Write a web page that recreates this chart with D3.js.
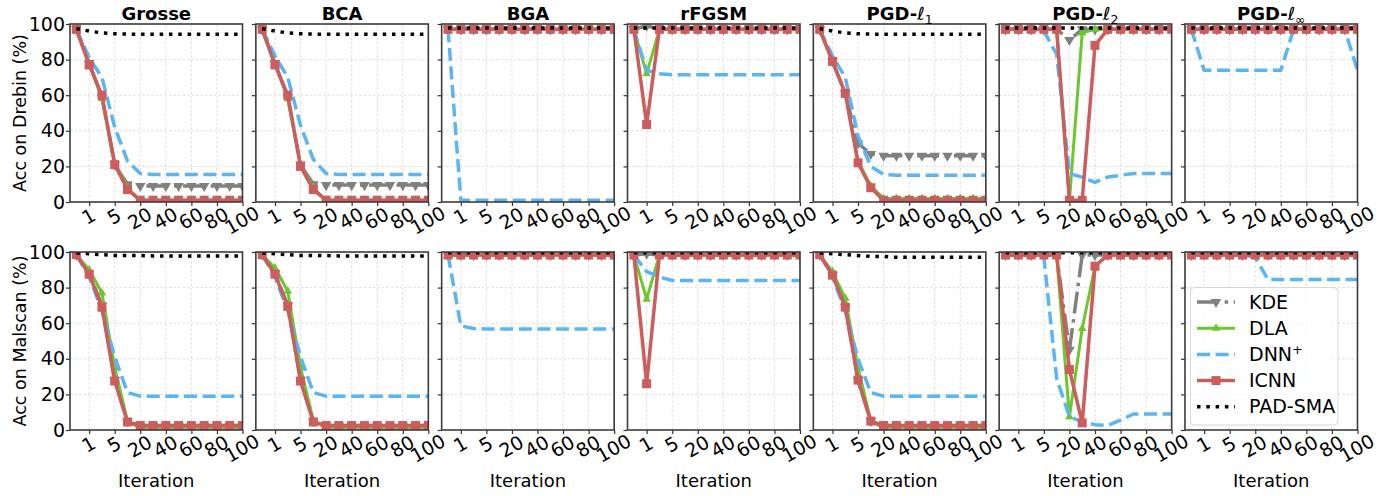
<!DOCTYPE html>
<html>
<head>
<meta charset="utf-8">
<script src="https://cdn.jsdelivr.net/npm/d3@7"></script>
<style>
  body { margin: 0; background: #fff; }
  text { font-family: "DejaVu Sans", sans-serif; fill: #000; }
</style>
</head>
<body>
<script>
var W = 1398, H = 496;

var attacks = ["Grosse", "BCA", "BGA", "rFGSM", "PGD-ℓ1", "PGD-ℓ2", "PGD-ℓ∞"];
var datasets = ["Drebin", "Malscan"];
var tickIdx = [1, 3, 5, 7, 9, 11, 13];
var tickLabels = ["1", "5", "20", "40", "60", "80", "100"];
var yTicks = [0, 20, 40, 60, 80, 100];

// one row of 14 points per attack (x = iteration index 0..13)
var kdeDrebin = [
  [97, 78, 59, 21, 10, 9, 9, 9, 9, 9, 9, 9, 9, 9],
  [97, 78, 59, 21, 10, 9.5, 9.5, 9.5, 9.5, 9.5, 9.5, 9.5, 9.5, 9.5],
  [97, 97, 97, 97, 97, 97, 97, 97, 97, 97, 97, 97, 97, 97],
  [97, 99, 97, 97, 97, 97, 97, 97, 97, 97, 97, 97, 97, 97],
  [97, 79, 61, 33, 27, 26, 26, 26, 26, 26, 26, 26, 26, 26],
  [97, 97, 97, 97, 97, 91, 97, 97, 97, 97, 97, 97, 97, 97],
  [97, 97, 97, 97, 97, 97, 97, 97, 97, 97, 97, 97, 97, 97]
];
var dlaDrebin = [
  [97, 78, 58, 22, 8, 1, 1, 1, 1, 1, 1, 1, 1, 1],
  [97, 78, 58, 21, 8, 1, 1, 1, 1, 1, 1, 1, 1, 1],
  [97, 97, 97, 97, 97, 97, 97, 97, 97, 97, 97, 97, 97, 97],
  [97, 72, 97, 97, 97, 97, 97, 97, 97, 97, 97, 97, 97, 97],
  [97, 79, 61, 23, 9, 2, 2, 2, 2, 2, 2, 2, 2, 2],
  [97, 97, 97, 97, 97, 1, 95, 97, 97, 97, 97, 97, 97, 97],
  [97, 97, 97, 97, 97, 97, 97, 97, 97, 97, 97, 97, 97, 97]
];
var dnnDrebin = [
  [97, 81, 70, 42, 23, 16, 15.5, 15.5, 15.5, 15.5, 15.5, 15.5, 15.5, 15.5],
  [97, 82, 70, 43, 24, 16, 15.5, 15.5, 15.5, 15.5, 15.5, 15.5, 15.5, 15.5],
  [97, 1, 1, 1, 1, 1, 1, 1, 1, 1, 1, 1, 1, 1],
  [97, 74, 72, 71.5, 71.5, 71.5, 71.5, 71.5, 71.5, 71.5, 71.5, 71.5, 71.5, 71.5],
  [97, 82, 70, 37, 20, 15.5, 15, 15, 15, 15, 15, 15, 15, 15],
  [97, 97, 97, 96, 83, 16, 14, 11, 14, 15, 16, 16, 16, 16],
  [97, 74, 74, 74, 74, 74, 74, 74, 97, 97, 97, 97, 97, 74]
];
var icnnDrebin = [
  [97, 77, 60, 21, 7, 1, 1, 1, 1, 1, 1, 1, 1, 1],
  [97, 77, 60, 20, 7, 1, 1, 1, 1, 1, 1, 1, 1, 1],
  [97, 97, 97, 97, 97, 97, 97, 97, 97, 97, 97, 97, 97, 97],
  [97, 43.5, 97, 97, 97, 97, 97, 97, 97, 97, 97, 97, 97, 97],
  [97, 79, 61, 22, 8, 1, 1, 1, 1, 1, 1, 1, 1, 1],
  [97, 97, 97, 97, 97, 1, 1, 88, 97, 97, 97, 97, 97, 97],
  [97, 97, 97, 97, 97, 97, 97, 97, 97, 97, 97, 97, 97, 97]
];
var padDrebin = [
  [97.5, 96, 95, 94.5, 94.3, 94.3, 94.3, 94.3, 94.3, 94.3, 94.3, 94.3, 94.3, 94.3],
  [97.5, 96, 95, 94.5, 94.3, 94.3, 94.3, 94.3, 94.3, 94.3, 94.3, 94.3, 94.3, 94.3],
  [97.8, 97.8, 97.8, 97.8, 97.8, 97.8, 97.8, 97.8, 97.8, 97.8, 97.8, 97.8, 97.8, 97.8],
  [97.8, 97.8, 97.8, 97.8, 97.8, 97.8, 97.8, 97.8, 97.8, 97.8, 97.8, 97.8, 97.8, 97.8],
  [97.5, 96, 95, 94.5, 94.3, 94.3, 94.3, 94.3, 94.3, 94.3, 94.3, 94.3, 94.3, 94.3],
  [97.8, 97.8, 97.8, 97.8, 97.8, 97.8, 97.8, 97.8, 97.8, 97.8, 97.8, 97.8, 97.8, 97.8],
  [97.8, 97.8, 97.8, 97.8, 97.8, 97.8, 97.8, 97.8, 97.8, 97.8, 97.8, 97.8, 97.8, 97.8]
];

var kdeMalscan = [
  [98.5, 88, 70, 28, 5, 2, 2, 2, 2, 2, 2, 2, 2, 2],
  [98.5, 88, 70, 28, 5, 2, 2, 2, 2, 2, 2, 2, 2, 2],
  [98.3, 98.3, 98.3, 98.3, 98.3, 98.3, 98.3, 98.3, 98.3, 98.3, 98.3, 98.3, 98.3, 98.3],
  [98.3, 99, 98.3, 98.3, 98.3, 98.3, 98.3, 98.3, 98.3, 98.3, 98.3, 98.3, 98.3, 98.3],
  [98.5, 87, 69, 28, 5, 2, 2, 2, 2, 2, 2, 2, 2, 2],
  [98.3, 98.3, 98.3, 98.3, 98.3, 45, 98.3, 98.3, 98.3, 98.3, 98.3, 98.3, 98.3, 98.3],
  [98.3, 98.3, 98.3, 98.3, 98.3, 98.3, 98.3, 98.3, 98.3, 98.3, 98.3, 98.3, 98.3, 98.3]
];
var dlaMalscan = [
  [98.5, 90, 77, 35, 5, 1, 1, 1, 1, 1, 1, 1, 1, 1],
  [98.5, 91, 78, 35, 5.5, 1, 1, 1, 1, 1, 1, 1, 1, 1],
  [98.3, 98.3, 98.3, 98.3, 98.3, 98.3, 98.3, 98.3, 98.3, 98.3, 98.3, 98.3, 98.3, 98.3],
  [98.3, 73.5, 98.3, 98.3, 98.3, 98.3, 98.3, 98.3, 98.3, 98.3, 98.3, 98.3, 98.3, 98.3],
  [98.5, 89, 74, 35, 5, 1, 1, 1, 1, 1, 1, 1, 1, 1],
  [98.3, 98.3, 98.3, 98.3, 98.3, 7.5, 57, 92, 98.3, 98.3, 98.3, 98.3, 98.3, 98.3],
  [98.3, 98.3, 98.3, 98.3, 98.3, 98.3, 98.3, 98.3, 98.3, 98.3, 98.3, 98.3, 98.3, 98.3]
];
var dnnMalscan = [
  [98.5, 86, 67, 41, 21, 19, 19, 19, 19, 19, 19, 19, 19, 19],
  [98.5, 86, 67, 41, 21, 19, 19, 19, 19, 19, 19, 19, 19, 19],
  [98.3, 58.5, 57, 56.7, 56.7, 56.7, 56.7, 56.7, 56.7, 56.7, 56.7, 56.7, 56.7, 56.7],
  [98.3, 89, 86, 84, 84, 84, 84, 84, 84, 84, 84, 84, 84, 84],
  [98.5, 86, 67, 40, 21, 19, 19, 19, 19, 19, 19, 19, 19, 19],
  [98.3, 98.3, 98.3, 97, 29, 7.5, 4.5, 3, 2.5, 5.5, 9, 9, 9, 9],
  [98.3, 98.3, 98.3, 98.3, 98.3, 97, 84.5, 84.5, 84.5, 84.5, 84.5, 84.5, 84.5, 84.5]
];
var icnnMalscan = [
  [98.5, 87.5, 69, 27.5, 4.5, 2.5, 2.5, 2.5, 2.5, 2.5, 2.5, 2.5, 2.5, 2.5],
  [98.5, 87.5, 69.5, 27.5, 4.5, 2.5, 2.5, 2.5, 2.5, 2.5, 2.5, 2.5, 2.5, 2.5],
  [98.3, 98.3, 98.3, 98.3, 98.3, 98.3, 98.3, 98.3, 98.3, 98.3, 98.3, 98.3, 98.3, 98.3],
  [98.3, 26, 98.3, 98.3, 98.3, 98.3, 98.3, 98.3, 98.3, 98.3, 98.3, 98.3, 98.3, 98.3],
  [98.5, 87, 69, 28, 5, 2.5, 2.5, 2.5, 2.5, 2.5, 2.5, 2.5, 2.5, 2.5],
  [98.3, 98.3, 98.3, 98.3, 98.3, 34, 4, 92, 98.3, 98.3, 98.3, 98.3, 98.3, 98.3],
  [98.3, 98.3, 98.3, 98.3, 98.3, 98.3, 98.3, 98.3, 98.3, 98.3, 98.3, 98.3, 98.3, 98.3]
];
var padMalscan = [
  [99.5, 99, 98.5, 98, 98, 98, 97.8, 97.8, 97.8, 97.8, 97.8, 97.8, 97.8, 97.8],
  [99.5, 99, 98.5, 98, 98, 98, 97.8, 97.8, 97.8, 97.8, 97.8, 97.8, 97.8, 97.8],
  [99.6, 99.6, 99.6, 99.6, 99.6, 99.6, 99.6, 99.6, 99.6, 99.6, 99.6, 99.6, 99.6, 99.6],
  [99.6, 99.6, 99.6, 99.6, 99.6, 99.6, 99.6, 99.6, 99.6, 99.6, 99.6, 99.6, 99.6, 99.6],
  [99.5, 99, 98.5, 98, 97.5, 97.5, 97, 97, 97, 97, 97, 97, 97, 97],
  [99.6, 99.6, 99.6, 99.6, 99.6, 99.6, 99.6, 99.6, 99.6, 99.6, 99.6, 99.6, 99.6, 99.6],
  [99.6, 99.6, 99.6, 99.6, 99.6, 99.6, 99.6, 99.6, 99.6, 99.6, 99.6, 99.6, 99.6, 99.6]
];

// drawing order = legend order
var series = [
  {name: "KDE", data: [kdeDrebin, kdeMalscan], color: "#808080", width: 3.5, dash: "22,5.6,3.5,5.6", marker: "down"},
  {name: "DLA", data: [dlaDrebin, dlaMalscan], color: "#6cc62e", width: 3, dash: null, marker: "up"},
  {name: "DNN+", data: [dnnDrebin, dnnMalscan], color: "#5ab4f5", width: 3.5, dash: "13,5.6", marker: null},
  {name: "ICNN", data: [icnnDrebin, icnnMalscan], color: "#cd5c5c", width: 3.5, dash: null, marker: "square"},
  {name: "PAD-SMA", data: [padDrebin, padMalscan], color: "#000000", width: 3.5, dash: "3.5,5.8", marker: null}
];

var panelW = 172.5, panelH = 178;
var lefts = attacks.map(function(a, i) { return 70 + i * 185.83; });
var tops = [24, 252];

var x = d3.scaleLinear().domain([-0.5, 13]).range([0, panelW]);
var y = d3.scaleLinear().domain([0, 100]).range([panelH, 0]);

var svg = d3.select("body").append("svg").attr("width", W).attr("height", H);

var clip = svg.append("defs").append("clipPath").attr("id", "plotclip");
clip.append("rect").attr("x", 0).attr("y", 0).attr("width", panelW).attr("height", panelH);

function drawMarker(g, type, color, cx, cy) {
  if (type === "square") {
    g.append("rect").attr("x", cx - 4.5).attr("y", cy - 4.5).attr("width", 9).attr("height", 9)
      .attr("fill", color);
  } else if (type === "down" || type === "up") {
    var size = type === "down" ? 48 : 32;
    g.append("path").attr("d", d3.symbol(d3.symbolTriangle, size)())
      .attr("transform", "translate(" + cx + "," + cy + ")" + (type === "down" ? " rotate(180)" : ""))
      .attr("fill", color);
  }
}

// title with math subscript
function titleText(sel, name) {
  var m = name.match(/^(PGD-)(ℓ)(.+)$/);
  if (!m) { sel.text(name); return; }
  sel.append("tspan").text(m[1]);
  sel.append("tspan").attr("font-weight", "normal").attr("font-style", "italic").text(m[2]);
  sel.append("tspan").attr("font-weight", "normal").attr("font-size", "12.5px").attr("dy", 4).text(m[3]);
}

var line = d3.line().x(function(d, i) { return x(i); }).y(function(d) { return y(d); });

datasets.forEach(function(ds, r) {
  attacks.forEach(function(att, c) {
    var g = svg.append("g").attr("transform", "translate(" + lefts[c] + "," + tops[r] + ")");

    // grid
    g.selectAll(".gx").data(tickIdx).enter().append("line")
      .attr("x1", function(d) { return x(d); }).attr("x2", function(d) { return x(d); })
      .attr("y1", 0).attr("y2", panelH)
      .attr("stroke", "#d4d4d4").attr("stroke-width", 0.8).attr("stroke-dasharray", "2.5,2");
    g.selectAll(".gy").data([20, 40, 60, 80]).enter().append("line")
      .attr("x1", 0).attr("x2", panelW)
      .attr("y1", function(d) { return y(d); }).attr("y2", function(d) { return y(d); })
      .attr("stroke", "#d4d4d4").attr("stroke-width", 0.8).attr("stroke-dasharray", "2.5,2");

    // axes
    var xa = g.append("g").attr("transform", "translate(0," + panelH + ")")
      .call(d3.axisBottom(x).tickValues(tickIdx).tickSize(4).tickPadding(0)
        .tickFormat(function(d, i) { return tickLabels[i]; }));
    xa.select(".domain").remove();
    xa.selectAll("line").attr("stroke", "#333").attr("stroke-width", 1.2);
    xa.selectAll("text").attr("font-size", "19px").attr("fill", "#000")
      .attr("text-anchor", "middle").attr("y", 0).attr("dy", "0.35em")
      .each(function() {
        var len = this.getComputedTextLength();
        d3.select(this).attr("transform", "translate(-1," + (12.5 + len * 0.16) + ") rotate(-30)");
      });

    var ya = g.append("g")
      .call(d3.axisLeft(y).tickValues(yTicks).tickSize(4).tickPadding(1));
    ya.select(".domain").remove();
    ya.selectAll("line").attr("stroke", "#333").attr("stroke-width", 1.2);
    ya.selectAll("text").attr("font-size", "19px").attr("fill", "#000");
    if (c > 0) ya.selectAll("text").remove();

    // series
    var plot = g.append("g").attr("clip-path", "url(#plotclip)");
    series.forEach(function(s) {
      var vals = s.data[r][c];
      plot.append("path").datum(vals).attr("d", line)
        .attr("fill", "none").attr("stroke", s.color).attr("stroke-width", s.width)
        .attr("stroke-linejoin", "round")
        .attr("stroke-dasharray", s.dash);
      if (s.marker) {
        vals.forEach(function(v, i) { drawMarker(plot, s.marker, s.color, x(i), y(v)); });
      }
    });

    // frame
    g.append("rect").attr("width", panelW).attr("height", panelH)
      .attr("fill", "none").attr("stroke", "#3c3c3c").attr("stroke-width", 1.6);

    if (r === 0) {
      var t = g.append("text").attr("x", panelW / 2).attr("y", -4.5)
        .attr("text-anchor", "middle").attr("font-size", "18px").attr("font-weight", "bold");
      titleText(t, att);
    }
    if (r === 1) {
      g.append("text").attr("x", panelW / 2).attr("y", 234.5)
        .attr("text-anchor", "middle").attr("font-size", "18px").text("Iteration");
    }
    if (c === 0) {
      g.append("text").attr("transform", "translate(-50," + (panelH / 2) + ") rotate(-90)")
        .attr("text-anchor", "middle").attr("dy", "0.35em").attr("font-size", "17.5px")
        .text("Acc on " + ds + " (%)");
    }
  });
});

// legend (inside last panel of row 2)
var lg = svg.append("g").attr("transform", "translate(1190.5,287.5)");
lg.append("rect").attr("width", 147.5).attr("height", 137.5).attr("rx", 4)
  .attr("fill", "#fff").attr("fill-opacity", 0.8).attr("stroke", "#d6d6d6").attr("stroke-width", 1);
series.forEach(function(s, k) {
  var yy = 14.5 + k * 26.2;
  lg.append("line").attr("x1", 6.5).attr("x2", 44.5).attr("y1", yy).attr("y2", yy)
    .attr("stroke", s.color).attr("stroke-width", s.width).attr("stroke-dasharray", s.dash);
  if (s.marker) drawMarker(lg, s.marker, s.color, 25.5, yy);
  var t = lg.append("text").attr("x", 58.5).attr("y", yy).attr("dy", "0.35em").attr("font-size", "19px");
  if (s.name === "DNN+") {
    t.append("tspan").text("DNN");
    t.append("tspan").attr("font-size", "13px").attr("dy", -7).text("+");
  } else {
    t.text(s.name);
  }
});
</script>
</body>
</html>
